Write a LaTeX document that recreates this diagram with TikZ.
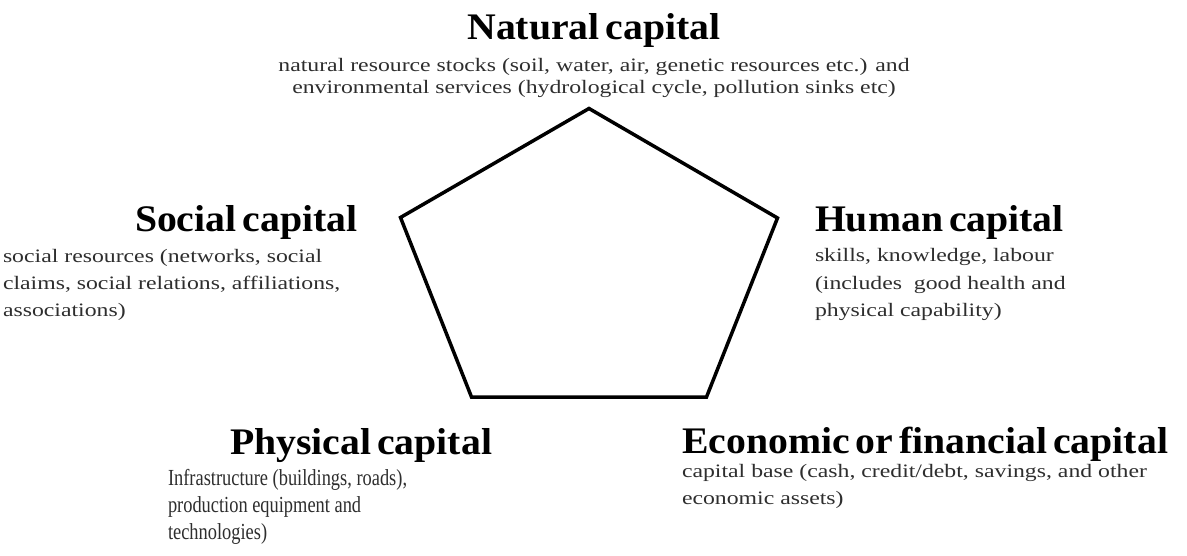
\documentclass[tikz,border=0pt]{standalone}
\usepackage{fontspec}
\setmainfont{Liberation Serif}
% headings: bold serif, slightly widened, tight word spacing
\newfontfamily\headfont[FakeStretch=1.06,WordSpace=0.6]{Liberation Serif Bold}
% descriptions: widened serif
\newfontfamily\descfont[FakeStretch=1.25]{Liberation Serif}
% narrow serif for the physical capital notes
\newfontfamily\narrowfont[FakeStretch=0.8]{Liberation Serif}
\begin{document}
\begin{tikzpicture}[x=1pt,y=-1pt,
  every node/.style={inner sep=0pt,outer sep=0pt},
  head/.style={font=\headfont\fontsize{37.5}{37.5}\selectfont,text=black},
  desc/.style={font=\descfont\fontsize{19}{19}\selectfont,text=black!82},
  narrowdesc/.style={font=\narrowfont\fontsize{23}{23}\selectfont,text=black!82},
  pent/.style={draw=black,line width=3.5pt,line join=miter}]
\useasboundingbox[fill=white] (0,0) rectangle (1187,556);

% pentagon corners
\coordinate (ptop) at (589,108.5);
\coordinate (pright) at (777.5,218);
\coordinate (pbr) at (706.5,397);
\coordinate (pbl) at (471.5,397);
\coordinate (pleft) at (400.5,217.5);
\draw[pent] (ptop) -- (pright) -- (pbr) -- (pbl) -- (pleft) -- cycle;

% natural capital
\node[head,anchor=base] (nat) at (594,39.5) {Natural capital};
\node[desc,anchor=base] (nat1) at (594,71.5) {natural resource stocks (soil, water, air, genetic resources etc.) and};
\node[desc,anchor=base] (nat2) at (594,94) {environmental services (hydrological cycle, pollution sinks etc)};

% social capital
\node[head,anchor=base west] (soc) at (135,231.5) {Social capital};
\node[desc,anchor=base west] (soc1) at (3,263) {social resources (networks, social};
\node[desc,anchor=base west] (soc2) at (3,290) {claims, social relations, affiliations,};
\node[desc,anchor=base west] (soc3) at (3,316.5) {associations)};

% human capital
\node[head,anchor=base west] (hum) at (815,231.5) {Human capital};
\node[desc,anchor=base west] (hum1) at (815,261.5) {skills, knowledge, labour};
\node[desc,anchor=base west] (hum2) at (815,290) {(includes\ \ good health and};
\node[desc,anchor=base west] (hum3) at (815,316.5) {physical capability)};

% physical capital
\node[head,anchor=base west] (phy) at (230,454) {Physical capital};
\node[narrowdesc,anchor=base west] (phy1) at (168,485) {Infrastructure (buildings, roads),};
\node[narrowdesc,anchor=base west] (phy2) at (168,512) {production equipment and};
\node[narrowdesc,anchor=base west] (phy3) at (168,539) {technologies)};

% economic or financial capital
\node[head,anchor=base west] (eco) at (682,453) {Economic or financial capital};
\node[desc,anchor=base west] (eco1) at (682,477) {capital base (cash, credit/debt, savings, and other};
\node[desc,anchor=base west] (eco2) at (682,504) {economic assets)};
\end{tikzpicture}
\end{document}
